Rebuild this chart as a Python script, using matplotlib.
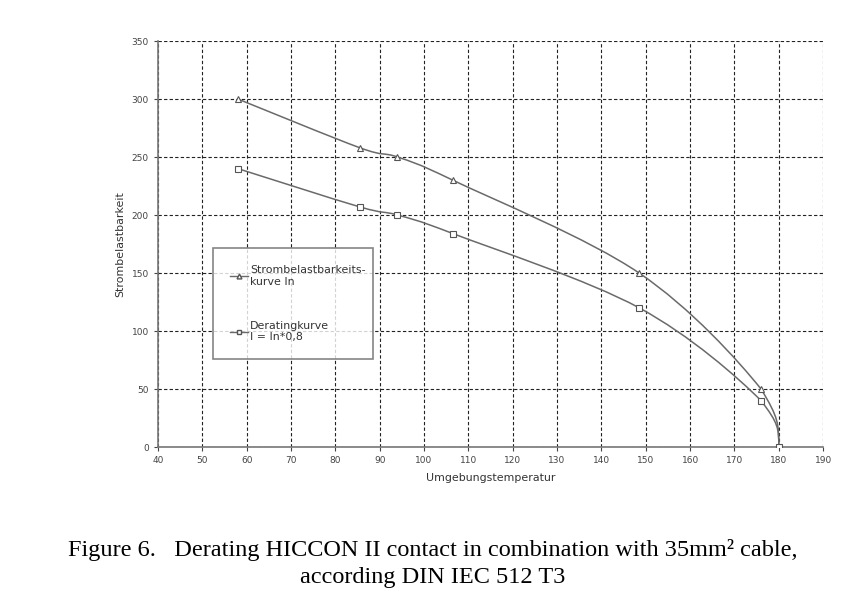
import matplotlib
matplotlib.use('Agg')
import matplotlib.pyplot as plt
from matplotlib.path import Path
from matplotlib.patches import PathPatch
from matplotlib.lines import Line2D
import numpy as np

# values
temp = [58, 85.5, 94, 106.5, 148.5, 176, 180]
strom_in = [300, 258, 250, 230, 150, 50, 0]
derating = [240, 207, 200, 184, 120, 40, 0]

xticks = list(range(40, 191, 10))
yticks = list(range(0, 351, 50))

label_in = 'Strombelastbarkeits-\nkurve In'
label_der = 'Deratingkurve\nI = In*0,8'
caption = ('Figure 6.   Derating HICCON II contact in combination with 35mm\u00b2 cable,\n'
           'according DIN IEC 512 T3')

LINE = '#6a6a6a'


def smooth_path(xs, ys):
    # excel-like smoothed line: cubic bezier through the points
    pts = np.column_stack([xs, ys]).astype(float)
    n = len(pts)
    verts = [pts[0]]
    codes = [Path.MOVETO]
    for i in range(n - 1):
        p0 = pts[i - 1] if i > 0 else pts[i]
        p1 = pts[i]
        p2 = pts[i + 1]
        p3 = pts[i + 2] if i + 2 < n else pts[i + 1]
        c1 = p1 + (p2 - p0) / 6.0
        c2 = p2 - (p3 - p1) / 6.0
        lo, hi = min(p1[0], p2[0]), max(p1[0], p2[0])
        c1[0] = np.clip(c1[0], lo, hi)
        c2[0] = np.clip(c2[0], lo, hi)
        if i + 2 >= n:
            c2 = np.array([p2[0], p2[1] + (p1[1] - p2[1]) * 0.4])
        verts += [c1, c2, p2]
        codes += [Path.CURVE4] * 3
    return Path(verts, codes)


fig = plt.figure(figsize=(8.61, 6.03), dpi=100)
ax = fig.add_axes([0.1835, 0.2587, 0.7725, 0.6733])

for ys, mk in [(strom_in, '^'), (derating, 's')]:
    ax.add_patch(PathPatch(smooth_path(temp, ys), fill=False, edgecolor=LINE, lw=1.1, zorder=3))
    ax.plot(temp, ys, linestyle='none', marker=mk, markersize=4.5, markerfacecolor='white',
            markeredgecolor='#555555', markeredgewidth=0.8, zorder=4)

ax.set_xlim(40, 190)
ax.set_ylim(0, 350)
ax.set_xticks(xticks)
ax.set_yticks(yticks)
ax.grid(True, color='#222222', linestyle=(0, (3, 2)), linewidth=0.8)
for s in ['top', 'right']:
    ax.spines[s].set_visible(False)
for s in ['left', 'bottom']:
    ax.spines[s].set_color('#777777')
    ax.spines[s].set_linewidth(1.2)
ax.tick_params(axis='both', labelsize=6.5, colors='#444444', length=3, width=0.8, direction='out')
ax.set_xlabel('Umgebungstemperatur', fontsize=7.9, color='#333333', labelpad=6)
ax.set_ylabel('Strombelastbarkeit', fontsize=7.9, color='#333333', labelpad=5)

handles = [Line2D([], [], color=LINE, lw=1.0, marker='^', markersize=3.5, markerfacecolor='white',
                  markeredgecolor='#555555'),
           Line2D([], [], color=LINE, lw=1.0, marker='s', markersize=3.5, markerfacecolor='white',
                  markeredgecolor='#555555')]
leg = ax.legend(handles, [label_in, label_der], loc='upper left', bbox_to_anchor=(0.083, 0.49, 0.24, 0.0),
                mode='expand', fontsize=7.9, frameon=True, fancybox=False, handlelength=1.6,
                handletextpad=0.2, labelspacing=3.1, borderpad=1.55, borderaxespad=0)
leg.get_frame().set_edgecolor('#666666')
leg.get_frame().set_linewidth(1.2)
leg.set_zorder(5)
for t in leg.get_texts():
    t.set_color('#333333')
    t.set_linespacing(1.2)

fig.text(0.503, 0.025, caption, ha='center', va='bottom', fontsize=17.5,
         family='Liberation Serif', linespacing=1.35)

fig.savefig('out.png', dpi=100, facecolor='white')
